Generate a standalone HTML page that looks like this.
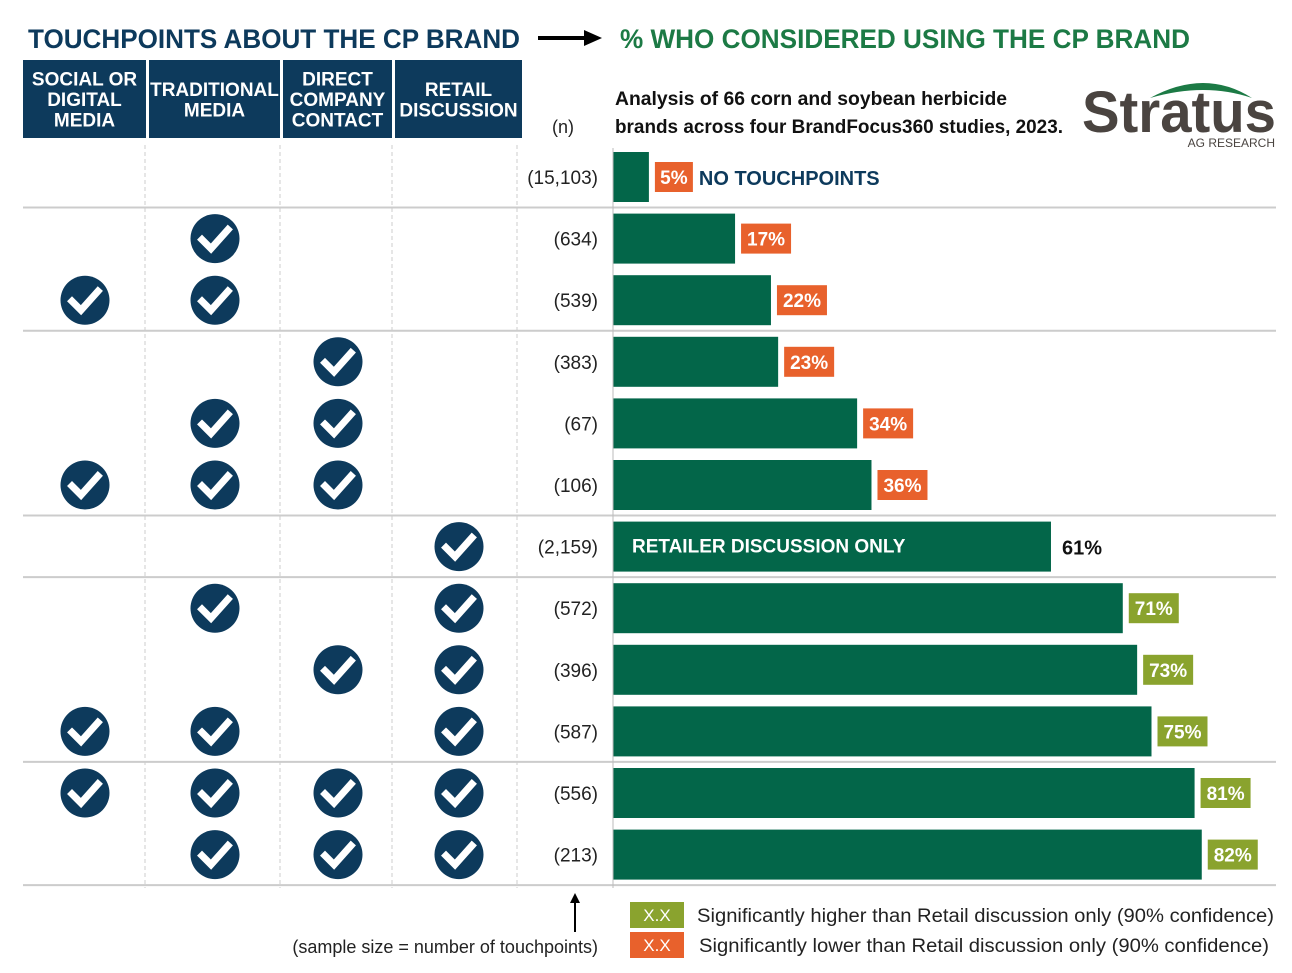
<!DOCTYPE html>
<html><head><meta charset="utf-8"><style>
body{margin:0;background:#fff;}
svg{display:block;font-family:"Liberation Sans",sans-serif;}
</style></head><body>
<svg id="chart" width="1292" height="973" viewBox="0 0 1292 973">
<text x="28" y="48" font-size="27" font-weight="bold" fill="#0D3A5C" textLength="492" lengthAdjust="spacingAndGlyphs">TOUCHPOINTS ABOUT THE CP BRAND</text>
<g><line x1="538" y1="38" x2="588" y2="38" stroke="#000" stroke-width="4"/><polygon points="584,30 602,38 584,46" fill="#000"/></g>
<text x="620" y="48" font-size="27" font-weight="bold" fill="#1C7A45" textLength="570" lengthAdjust="spacingAndGlyphs">% WHO CONSIDERED USING THE CP BRAND</text>
<g id="headers"></g>
<text x="563" y="133" font-size="18" fill="#222" text-anchor="middle">(n)</text>
<text x="615" y="105" font-size="19" font-weight="bold" fill="#111" textLength="392" lengthAdjust="spacingAndGlyphs">Analysis of 66 corn and soybean  herbicide</text>
<text x="615" y="133" font-size="19" font-weight="bold" fill="#111" textLength="448" lengthAdjust="spacingAndGlyphs">brands across four BrandFocus360 studies, 2023.</text>
<g>
<path d="M1150,98 Q1205,68 1252,98 Q1205,82 1150,98 Z" fill="#1C7A45"/>
<text x="1082" y="132" font-size="58" font-weight="bold" fill="#4A4440" textLength="194" lengthAdjust="spacingAndGlyphs">Stratus</text>
<text x="1275" y="147" font-size="12" fill="#4A4440" text-anchor="end">AG RESEARCH</text>
</g>
<g id="grid"></g>
<g id="rows"></g>
<line x1="613" y1="148" x2="613" y2="888" stroke="#bbb" stroke-width="1"/>
<g>
<line x1="575" y1="932" x2="575" y2="900" stroke="#000" stroke-width="2"/><polygon points="570,903 575,893 580,903" fill="#000"/>
<text x="598" y="953" font-size="18" fill="#222" text-anchor="end">(sample size = number of touchpoints)</text>
</g>
<g>
<rect x="630" y="902" width="54" height="26" fill="#8AA32E"/><text x="657" y="921" font-size="17" fill="#fff" text-anchor="middle">X.X</text>
<text x="697" y="922" font-size="19" fill="#222" textLength="577" lengthAdjust="spacingAndGlyphs">Significantly higher than Retail discussion only (90% confidence)</text>
<rect x="630" y="932" width="54" height="26" fill="#E8612C"/><text x="657" y="951" font-size="17" fill="#fff" text-anchor="middle">X.X</text>
<text x="699" y="952" font-size="19" fill="#222" textLength="570" lengthAdjust="spacingAndGlyphs">Significantly lower than Retail discussion only (90% confidence)</text>
</g>
</svg>
<script>
const nLabels=["(15,103)","(634)","(539)","(383)","(67)","(106)","(2,159)","(572)","(396)","(587)","(556)","(213)"];
const pctValues=[5,17,22,23,34,36,61,71,73,75,81,82];
const sigFlags=["low","low","low","low","low","low","base","high","high","high","high","high"];
const touchSocial=[0,0,1,0,0,1,0,0,0,1,1,0];
const touchTraditional=[0,1,1,0,1,1,0,1,0,1,1,1];
const touchDirect=[0,0,0,1,1,1,0,0,1,0,1,1];
const touchRetail=[0,0,0,0,0,0,1,1,1,1,1,1];
const headerLabels=[["SOCIAL OR","DIGITAL","MEDIA"],["TRADITIONAL","MEDIA"],["DIRECT","COMPANY","CONTACT"],["RETAIL","DISCUSSION"]];

const NS="http://www.w3.org/2000/svg";
function mk(tag,attrs,parent,txt){const e=document.createElementNS(NS,tag);for(const k in attrs)e.setAttribute(k,attrs[k]);if(txt!==undefined)e.textContent=txt;parent.appendChild(e);return e;}
const x0=613, pxPer=7.18;
const xScale=v=>x0+v*pxPer;
const rowY=i=>177+i*61.6;
const colX=[85,215,338,459];
const hdr=[[23,146],[149,280],[283,392],[395,522]];
const H=document.getElementById('headers');
hdr.forEach((h,i)=>{
  const g=mk('g',{},H);
  
  
  mk('rect',{x:h[0],y:60,width:h[1]-h[0],height:78,fill:'#0D3A5C'},g);
  const lines=headerLabels[i];const cy=99, lh=20.5, start=cy-(lines.length-1)*lh/2+7;
  lines.forEach((l,j)=>mk('text',{x:(h[0]+h[1])/2,y:start+j*lh,'font-size':19,'font-weight':'bold',fill:'#fff','text-anchor':'middle'},g,l));
});
const G=document.getElementById('grid');
[145,280,392,517].forEach(x=>{const l=mk('line',{x1:x,y1:145,x2:x,y2:888,stroke:'#ccc','stroke-dasharray':'4,3'},G);});
[0,2,5,6,9,11].forEach(i=>{const y=rowY(i)+30.5;const l=mk('line',{x1:23,y1:y,x2:1276,y2:y,stroke:'#ccc','stroke-width':2},G);});
const R=document.getElementById('rows');
const cols=[touchSocial,touchTraditional,touchDirect,touchRetail];
pctValues.forEach((v,i)=>{
  const y=rowY(i);
  const g=mk('g',{},R);
  
  
  cols.forEach((c,k)=>{ if(c[i]){
    const ck=mk('g',{},g);
    
    
    const cx=colX[k];
    mk('circle',{cx:cx,cy:y,r:24.5,fill:'#0D3A5C'},ck);
    mk('polyline',{points:`${cx-13},${y+1} ${cx-4},${y+10} ${cx+13},${y-9}`,fill:'none',stroke:'#fff','stroke-width':7,'stroke-linecap':'square'},ck);
  }});
  const nt=mk('text',{x:598,y:y+7,'font-size':19,fill:'#222','text-anchor':'end'},g,nLabels[i]);
  
  
  const xe=xScale(v);
  const b=mk('rect',{x:x0,y:y-25,width:xe-x0,height:50,fill:'#036649'},g);
  
  
  if(sigFlags[i]==='base'){
    mk('text',{x:632,y:y+6,'font-size':19,'font-weight':'bold',fill:'#fff'},g,'RETAILER DISCUSSION ONLY');
    const t=mk('text',{x:xe+11,y:y+8,'font-size':20,'font-weight':'bold',fill:'#111'},g,v+'%');
    
    
  } else {
    const col=sigFlags[i]==='low'?'#E8612C':'#8AA32E';
    const w=v<10?38:50;
    mk('rect',{x:xe+6,y:y-15,width:w,height:30,fill:col},g);
    const t=mk('text',{x:xe+6+w/2,y:y+7,'font-size':19,'font-weight':'bold',fill:'#fff','text-anchor':'middle'},g,v+'%');
    
    
    if(i===0){mk('text',{x:xe+50,y:y+8,'font-size':20,'font-weight':'bold',fill:'#0D3A5C'},g,'NO TOUCHPOINTS');}
  }
});
</script>
</body></html>
